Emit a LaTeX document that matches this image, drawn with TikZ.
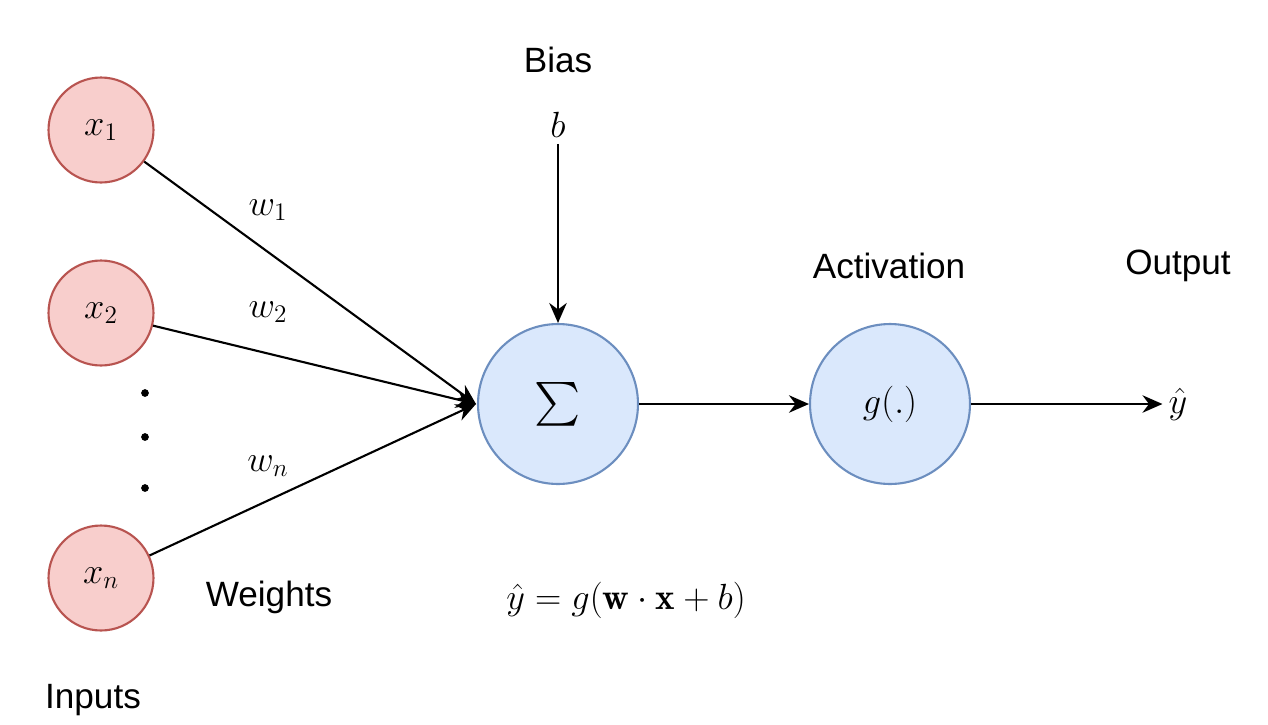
\documentclass[tikz,border=0pt]{standalone}
\usepackage{amsmath}
\usepackage{fontspec}
\setsansfont{Liberation Sans}
\usetikzlibrary{arrows.meta}
\definecolor{inred}{HTML}{F8CECC}
\definecolor{inredline}{HTML}{B85450}
\definecolor{nblue}{HTML}{DAE8FC}
\definecolor{nblueline}{HTML}{6C8EBF}
\begin{document}
\begin{tikzpicture}[x=0.02cm,y=-0.02cm,
    txt/.style={font=\sffamily\fontsize{20}{24}\selectfont},
    mth/.style={font=\fontsize{21}{25}\selectfont},
    incirc/.style={circle, fill=inred, draw=inredline, line width=1.2pt, minimum size=2.1cm, inner sep=0pt, font=\fontsize{21}{25}\selectfont},
    unit/.style={circle, fill=nblue, draw=nblueline, line width=1.2pt, minimum size=3.2cm, inner sep=0pt},
    arr/.style={-{Stealth[length=4mm,width=3.5mm]}, line width=1.2pt}]
    \useasboundingbox (0,0) rectangle (1268,724);

    % the inputs
    \node[incirc] (x1) at (101,130) {$x_1$};
    \node[incirc] (x2) at (101,313) {$x_2$};
    \node[incirc] (xn) at (101,578) {$x_n$};
    \foreach \yy in {393,437,488}
        \fill (145,\yy) circle (2.2pt);

    % the neuron and the activation
    \node[unit, font=\fontsize{40}{44}\selectfont] (sum) at (558,404) {$\sum$};
    \node[unit, font=\fontsize{21}{25}\selectfont] (act) at (890,404) {$g(.)$};
    \coordinate (into) at (476,404);

    % the texts
    \node[txt] (bias) at (558,60) {Bias};
    \node[mth] (b) at (558,125) {$b$};
    \node[txt] (actlab) at (889,266) {Activation};
    \node[txt] (outlab) at (1178,266) {Output};
    \node[mth] (yhat) at (1178,404) {$\hat{y}$};
    \node[txt] (weights) at (269,597) {Weights};
    \node[txt] (inputs) at (93,700) {Inputs};
    \node[mth] (formula) at (626,600) {$\hat{y} = g(\mathbf{w}\cdot\mathbf{x} + b)$};
    \node[mth] (w1) at (268,210) {$w_1$};
    \node[mth] (w2) at (268,312) {$w_2$};
    \node[mth] (wn) at (268,466) {$w_n$};

    % the arrows
    \draw[arr] (x1) -- (into);
    \draw[arr] (x2) -- (into);
    \draw[arr] (xn) -- (into);
    \draw[arr] (b) -- (sum);
    \draw[arr] (sum) -- (act);
    \draw[arr] (act) -- (yhat);
\end{tikzpicture}
\end{document}
